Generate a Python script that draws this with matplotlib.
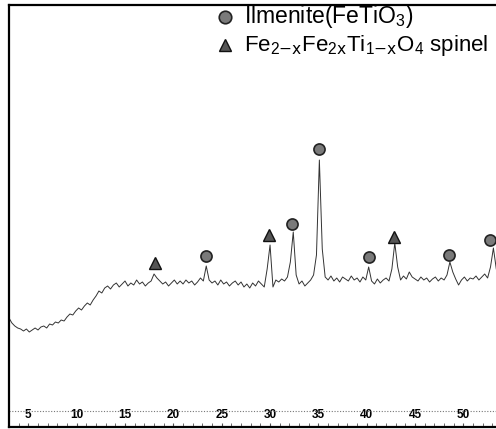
import numpy as np
import matplotlib
matplotlib.use('Agg')
import matplotlib.pyplot as plt

plt.rcParams['font.family'] = ['Liberation Sans', 'DejaVu Sans']
plt.rcParams['mathtext.default'] = 'regular'

# 2-theta grid of the scan (deg), 0.3 deg step, 3.0 .. 54.3
two_theta = np.round(np.arange(172) * 0.3 + 3.0, 2)

# intensity (arb. units)
counts = [
    109, 104, 101, 99, 98, 96, 98, 95, 97, 99,
    97, 100, 101, 99, 103, 102, 105, 104, 107, 106,
    110, 113, 112, 116, 119, 117, 121, 124, 122, 127,
    131, 136, 134, 139, 141, 138, 142, 144, 140, 143,
    146, 141, 144, 142, 147, 143, 145, 141, 144, 146,
    153, 149, 146, 143, 145, 141, 144, 147, 143, 146,
    143, 147, 144, 146, 142, 145, 149, 146, 161, 147,
    144, 146, 142, 147, 143, 145, 141, 144, 146, 142,
    145, 140, 143, 139, 144, 141, 146, 143, 140, 158,
    182, 140, 147, 145, 148, 146, 150, 165, 195, 152,
    143, 146, 141, 144, 147, 152, 172, 267, 178, 150,
    147, 151, 146, 149, 145, 150, 148, 146, 151, 147,
    149, 145, 150, 147, 160, 146, 143, 148, 144, 147,
    149, 146, 158, 184, 160, 147, 151, 148, 155, 150,
    148, 146, 150, 147, 149, 145, 148, 150, 146, 149,
    147, 152, 165, 155, 148, 142, 147, 150, 146, 149,
    148, 151, 147, 150, 153, 149, 160, 179, 158, 147,
    146, 148,
]

# phase markers
ilmenite_pos = [23.4, 32.3, 35.1, 40.2, 48.5, 52.8]
ilmenite_mark = [171, 203, 278, 170, 172, 187]
spinel_pos = [18.1, 29.9, 42.8]
spinel_mark = [164, 192, 190]

xticks = [5, 10, 15, 20, 25, 30, 35, 40, 45, 50]

fig = plt.figure(figsize=(4.96, 4.29), dpi=100)
ax = fig.add_axes([9 / 496, 2 / 429, 1.0, 422 / 429])

ax.plot(two_theta, counts, color='#333333', lw=0.7)
ax.plot(ilmenite_pos, ilmenite_mark, 'o', ms=8, mfc='#7a7a7a', mec='#222222', mew=1.2)
ax.plot(spinel_pos, spinel_mark, '^', ms=8, mfc='#555555', mec='#111111', mew=1.0)

ax.set_xlim(3.0, 54.3)
ax.set_ylim(0, 422)
ax.set_yticks([])
ax.set_xticks(xticks)
ax.set_xticks(np.arange(3, 55, 1), minor=True)
ax.tick_params(axis='x', which='both', direction='in', pad=-13, labelsize=8.5,
               length=3, color='#555555')
for lbl in ax.get_xticklabels():
    lbl.set_fontweight('bold')
ax.axhline(16, color='#777777', lw=0.8, ls=(0, (1, 1.5)))

for s in ['left', 'top', 'bottom']:
    ax.spines[s].set_linewidth(1.6)
ax.spines['right'].set_visible(False)

# legend drawn in pixel-matched axes fraction
ax.plot([(221 - 9) / 487], [(427 - 17) / 422], 'o', ms=9, mfc='#7a7a7a', mec='#222222',
        mew=1.2, transform=ax.transAxes, clip_on=False)
ax.plot([(221 - 9) / 487], [(427 - 45) / 422], '^', ms=9, mfc='#555555', mec='#111111',
        mew=1.0, transform=ax.transAxes, clip_on=False)
ax.text((240 - 9) / 487, (427 - 17) / 422, r'Ilmenite(FeTiO$_3$)', fontsize=16.5,
        va='center', ha='left', transform=ax.transAxes)
ax.text((240 - 9) / 487, (427 - 45) / 422,
        r'Fe$_{2\mathrm{-x}}$Fe$_{2\mathrm{x}}$Ti$_{1\mathrm{-x}}$O$_4$ spinel', fontsize=16,
        va='center', ha='left', transform=ax.transAxes)

fig.savefig('out.png', dpi=100)
